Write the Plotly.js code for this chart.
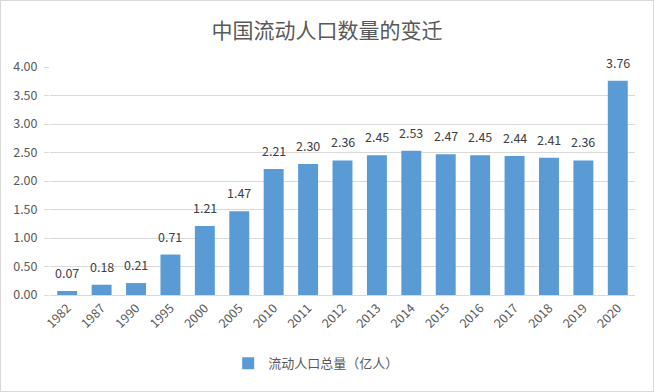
<!DOCTYPE html>
<html><head><meta charset="utf-8">
<script src="https://cdn.plot.ly/plotly-3.0.1.min.js"></script>
<style>
html,body{margin:0;padding:0;background:#fff;}
#chart{width:654px;height:392px;box-sizing:border-box;border:1px solid #d9d9d9;}
</style></head>
<body><div id="chart"></div>
<script>
const years = ['1982','1987','1990','1995','2000','2005','2010','2011','2012','2013','2014','2015','2016','2017','2018','2019','2020'];
const values = [0.07,0.18,0.21,0.71,1.21,1.47,2.21,2.30,2.36,2.45,2.53,2.47,2.45,2.44,2.41,2.36,3.76];
const seriesName = '流动人口总量（亿人）';
const yTicks = [0,0.5,1,1.5,2,2.5,3,3.5,4];

const font = '"Noto Sans CJK SC", "Microsoft YaHei", sans-serif';
const labels = years.map((yr, i) => ({
  x: i, y: values[i], xref:'x', yref:'y', text: values[i].toFixed(2),
  showarrow:false, yanchor:'bottom', yshift:7,
  font:{size:12.5, color:'#404040', family:font}
}));
Plotly.newPlot('chart', [{
  type:'bar', x:years, y:values, name:seriesName,
  marker:{color:'#5b9bd5'},
  hoverinfo:'x+y'
}], {
  width:652, height:390,
  margin:{l:49, r:18, t:66, b:96},
  paper_bgcolor:'#fff', plot_bgcolor:'#fff',
  font:{family:font, color:'#595959'},
  title:{text:'中国流动人口数量的变迁', font:{size:21, color:'#595959', family:font}, x:0.5, xanchor:'center', y:0.925, yanchor:'middle'},
  bargap:0.42,
  annotations: labels,
  xaxis:{type:'category', categoryorder:'array', categoryarray:years, tickangle:-45, tickfont:{size:12.5, color:'#595959'}, showline:true, linecolor:'#d9d9d9', linewidth:1, ticks:'', showgrid:false},
  yaxis:{range:[0,4], tickvals:yTicks, tickformat:'.2f', tickfont:{size:12.5, color:'#595959'}, gridcolor:'#d9d9d9', gridwidth:1, zeroline:false, showline:false, ticks:'outside', ticklen:5, tickcolor:'#d9d9d9', ticklabelstandoff:4},
  showlegend:true,
  legend:{orientation:'h', x:0.455, xanchor:'center', y:-0.3, yanchor:'middle', font:{size:13, color:'#595959'}, itemwidth:30}
}, {displayModeBar:false});
</script></body></html>
